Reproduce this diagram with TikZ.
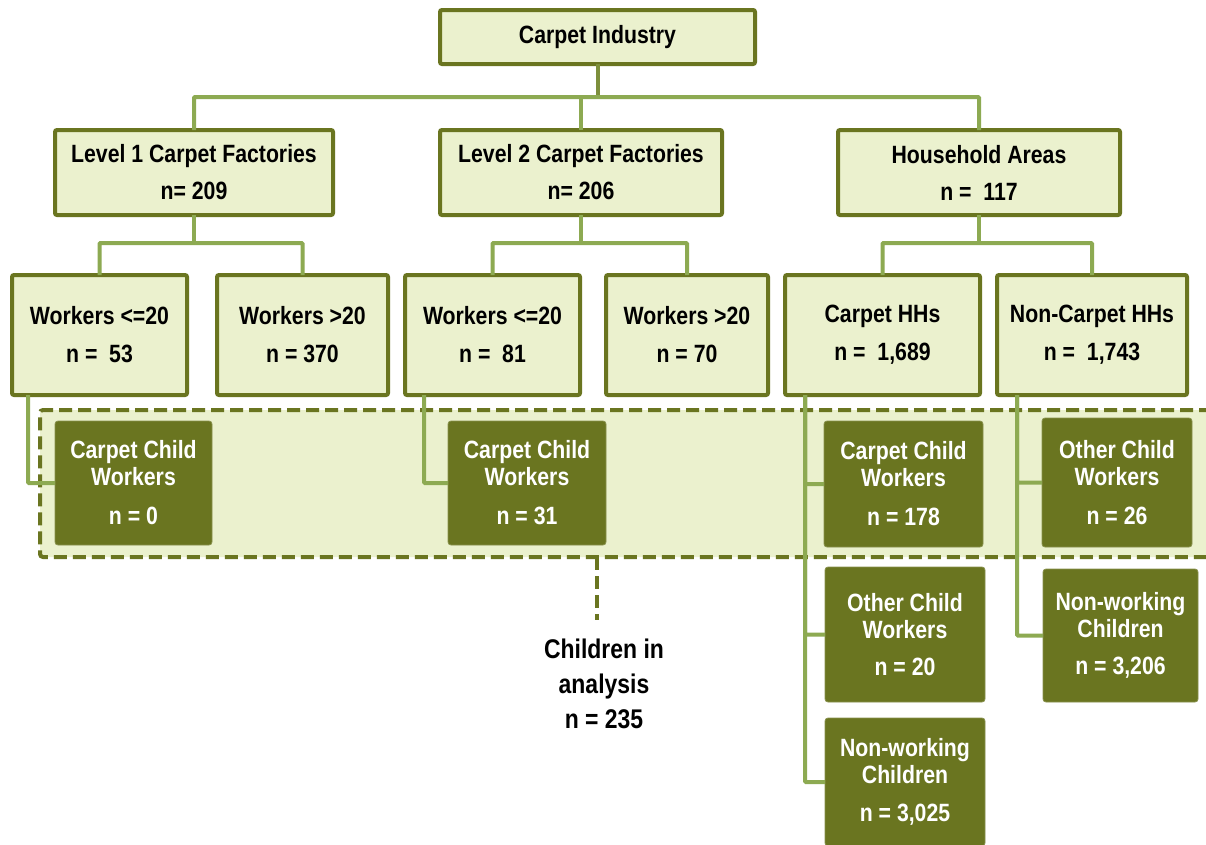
\documentclass[tikz,border=0pt]{standalone}
\usepackage{fontspec}
\setmainfont{Liberation Sans}[FakeStretch=0.85]
\definecolor{lightfill}{HTML}{EBF1CE}
\definecolor{darkolive}{HTML}{6A7520}
\definecolor{connc}{HTML}{8DAA52}
\definecolor{topconn}{HTML}{7D8F3C}
\begin{document}
\begin{tikzpicture}[x=1pt,y=-1pt,
  lbox/.style={draw=darkolive,line width=4pt,fill=lightfill,rounded corners=2pt,
    inner sep=0pt,outer sep=0pt,align=center,text=black,
    font=\bfseries\fontsize{25}{27}\selectfont},
  dbox/.style={fill=darkolive,draw=darkolive!80!white,line width=0.8pt,rounded corners=3pt,
    inner sep=0pt,outer sep=0pt,align=center,text=white,
    font=\bfseries\fontsize{25}{27}\selectfont},
  conn/.style={draw=connc,line width=4pt,rounded corners=1pt},
  regionbox/.style={draw=darkolive,fill=lightfill,line width=4pt,rounded corners=3pt,
    dash pattern=on 13pt off 6pt,inner sep=0pt,outer sep=0pt},
  dashconn/.style={draw=darkolive,line width=4pt,dash pattern=on 13pt off 6pt}
]
\useasboundingbox (0,0) rectangle (1206,844);
\clip (0,0) rectangle (1206,844);
\fill[white] (0,0) rectangle (1206,844);

% region
\node[regionbox,minimum width=1175pt,minimum height=147pt] (reg) at (627.5,483.5) {};

% top levels
\node[lbox,minimum width=315pt,minimum height=54pt] (top) at (597.5,37) {Carpet Industry};
\node[lbox,minimum width=278pt,minimum height=85pt] (L1) at (194,172.5) {Level 1 Carpet Factories\\[10pt]n= 209};
\node[lbox,minimum width=282pt,minimum height=85pt] (L2) at (581,172.5) {Level 2 Carpet Factories\\[10pt]n= 206};
\node[lbox,minimum width=282pt,minimum height=85pt] (HH) at (979,172.5) {Household Areas\\[10pt]n = \ 117};

% third row
\node[lbox,minimum width=175pt,minimum height=120pt] (r3a) at (99.5,335) {Workers <=20\\[11pt]n = \ 53};
\node[lbox,minimum width=171pt,minimum height=120pt] (r3b) at (302.5,335) {Workers >20\\[11pt]n = 370};
\node[lbox,minimum width=175pt,minimum height=120pt] (r3c) at (492.5,335) {Workers <=20\\[11pt]n = \ 81};
\node[lbox,minimum width=162pt,minimum height=120pt] (r3d) at (687,335) {Workers >20\\[11pt]n = 70};
\node[lbox,minimum width=195pt,minimum height=120pt] (r3e) at (882.5,335) {Carpet HHs\\[11pt]n = \ 1,689};
\node[lbox,minimum width=190pt,minimum height=120pt] (r3f) at (1092,335) {Non-Carpet HHs\\[11pt]n = \ 1,743};

% connectors
\draw[draw=topconn,line width=4pt] (top.south) -- ++(0,33);
\draw[conn] (L1.north) -- ++(0,-33) -| (HH.north);
\draw[conn] (L2.north) -- ++(0,-33);
\draw[conn] (L1.south) -- ++(0,28);
\draw[conn] (r3a.north) -- ++(0,-32) -| (r3b.north);
\draw[conn] (L2.south) -- ++(0,28);
\draw[conn] (r3c.north) -- ++(0,-32) -| (r3d.north);
\draw[conn] (HH.south) -- ++(0,28);
\draw[conn] (r3e.north) -- ++(0,-32) -| (r3f.north);

% dark boxes
\node[dbox,minimum width=157pt,minimum height=124pt] (d1) at (133.5,483) {Carpet Child\\Workers\\[12pt]n = 0};
\node[dbox,minimum width=158pt,minimum height=124pt] (d2) at (527,483) {Carpet Child\\Workers\\[12pt]n = 31};
\node[dbox,minimum width=159pt,minimum height=126pt] (d3) at (903.5,484) {Carpet Child\\Workers\\[12pt]n = 178};
\node[dbox,minimum width=150pt,minimum height=129pt] (d4) at (1117,482.5) {Other Child\\Workers\\[12pt]n = 26};
\node[dbox,minimum width=160pt,minimum height=135pt] (d5) at (905,634.5) {Other Child\\Workers\\[10pt]n = 20};
\node[dbox,minimum width=155pt,minimum height=133pt] (d6) at (1120.5,635.5) {Non-working\\Children\\[10pt]n = 3,206};
\node[dbox,minimum width=160pt,minimum height=128pt] (d7) at (905,782) {Non-working\\Children\\[11pt]n = 3,025};

% lower connectors
\draw[conn] ([xshift=-71.5pt]r3a.south) |- (d1.west);
\draw[conn] ([xshift=-68.5pt]r3c.south) |- (d2.west);
\draw[conn] ([xshift=-77.5pt]r3e.south) |- (d7.west);
\draw[conn] ([xshift=-77.5pt]r3e.south) |- (d3.west);
\draw[conn] ([xshift=-77.5pt]r3e.south) |- (d5.west);
\draw[conn] ([xshift=-75pt]r3f.south) |- (d6.west);
\draw[conn] ([xshift=-75pt]r3f.south) |- (d4.west);

% children in analysis
\draw[dashconn] ([xshift=-30.5pt]reg.south) -- ++(0,63) coordinate (dend);
\node[align=center,inner sep=0pt,font=\bfseries\fontsize{27}{35}\selectfont] (cia) at (604,684) {Children in\\analysis\\n = 235};
\end{tikzpicture}
\end{document}
